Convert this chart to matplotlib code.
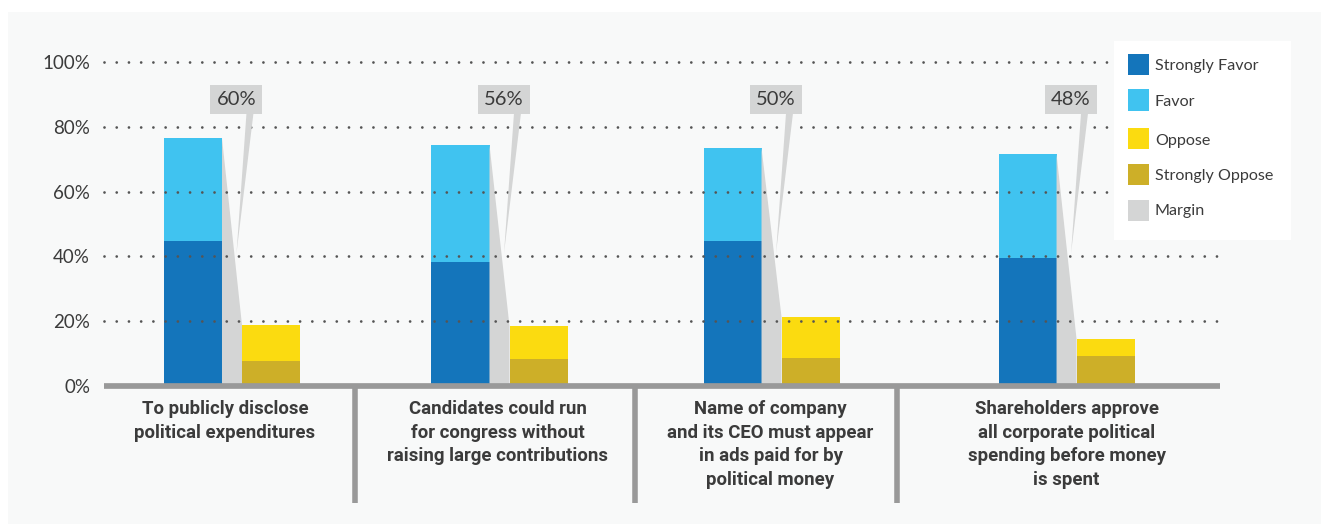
import matplotlib
matplotlib.use("Agg")
import matplotlib.pyplot as plt
from matplotlib.patches import Rectangle, Polygon
from matplotlib.transforms import blended_transform_factory

# ---- data -------------------------------------------------------------
categories = [
    "To publicly disclose\npolitical expenditures",
    "Candidates could run\nfor congress without\nraising large contributions",
    "Name of company\nand its CEO must appear\nin ads paid for by\npolitical money",
    "Shareholders approve\nall corporate political\nspending before money\nis spent",
]
strongly_favor = [44.8, 38.3, 44.8, 39.5]
favor = [31.7, 36.1, 28.7, 32.1]
strongly_oppose = [7.7, 8.3, 8.6, 9.3]
oppose = [11.1, 10.2, 12.7, 5.2]
margin_labels = ["60%", "56%", "50%", "48%"]
y_ticks = [0, 20, 40, 60, 80, 100]
y_tick_labels = ["0%", "20%", "40%", "60%", "80%", "100%"]
legend_labels = ["Strongly Favor", "Favor", "Oppose", "Strongly Oppose", "Margin"]

# ---- style --------------------------------------------------------------
C_SF = "#1475bb"
C_F = "#40c3f0"
C_O = "#fbdb10"
C_SO = "#cdaf28"
C_MARGIN = "#d4d5d5"
C_TEXT = "#3b3b3b"
C_AXIS = "#999999"
C_GRID = "#555555"
PANEL = "#f8f9f9"
FONT = "Lato"
FONT_BOLD = "Roboto"

W, H = 1321, 524
fig = plt.figure(figsize=(W / 100, H / 100), dpi=100)
fig.patch.set_facecolor("white")


def fx(px):
    return px / W


def fy(py):
    return 1 - py / H


# light panel behind everything
fig.add_artist(Rectangle((fx(8), 0), 1 - fx(8), fy(12), transform=fig.transFigure,
                         facecolor=PANEL, edgecolor="none", zorder=-5))

# plot area
ax_left, ax_right, ax_top, ax_bottom = 104, 1220, 62, 386
ax = fig.add_axes([fx(ax_left), fy(ax_bottom), fx(ax_right - ax_left),
                   (ax_bottom - ax_top) / H])
ax.set_facecolor("none")

unit = 270.0  # pixels per group step
group_pos = [0.0, 0.9907, 1.9981, 3.0907]
x_min, x_max = -0.474, 3.659
ax.set_xlim(x_min, x_max)
ax.set_ylim(0, 100)
for s in ax.spines.values():
    s.set_visible(False)

bar_w = 58 / unit
off = 39 / unit

for i, gx in enumerate(group_pos):
    xf = gx - off
    xo = gx + off
    ax.bar(xf, strongly_favor[i], width=bar_w, color=C_SF, zorder=2)
    ax.bar(xf, favor[i], bottom=strongly_favor[i], width=bar_w, color=C_F, zorder=2)
    ax.bar(xo, strongly_oppose[i], width=bar_w, color=C_SO, zorder=2)
    ax.bar(xo, oppose[i], bottom=strongly_oppose[i], width=bar_w, color=C_O, zorder=2)

    fav_total = strongly_favor[i] + favor[i]
    opp_total = strongly_oppose[i] + oppose[i]
    x1 = xf + bar_w / 2
    x2 = xo - bar_w / 2
    ax.add_patch(Polygon([(x1, 0), (x1, fav_total), (x2, opp_total), (x2, 0)],
                         closed=True, facecolor=C_MARGIN, edgecolor="none", zorder=2))

    # callout with the margin value
    bx = gx + 4.5 / unit
    box_w = 52 / unit
    box_bot, box_top = 83.95, 92.9
    ax.add_patch(Rectangle((bx - box_w / 2, box_bot), box_w, box_top - box_bot,
                           facecolor=C_MARGIN, edgecolor="none", zorder=5))
    ax.add_patch(Polygon([(bx + 10 / unit, box_bot + 0.3), (bx + 17 / unit, box_bot + 0.3),
                          (bx, 41.0)], closed=True, facecolor=C_MARGIN,
                         edgecolor="none", zorder=5))
    ax.text(bx, (box_bot + box_top) / 2, margin_labels[i], ha="center", va="center",
            fontsize=14.5, family=FONT, color=C_TEXT, zorder=6)

# dotted gridlines
for yv in y_ticks[1:]:
    ax.plot([x_min, x_max + 3 / unit], [yv, yv], color=C_GRID, linewidth=2.0,
            linestyle=(0, (0.001, 4.4)), dash_capstyle="round", zorder=3, clip_on=False)

# baseline
ax.axhline(0, color=C_AXIS, linewidth=4.1, solid_capstyle="butt", zorder=4, clip_on=False)

# separators between categories
trans = blended_transform_factory(ax.transData, ax.transAxes)
sep_px = [355, 634.5, 897]
sep_bottom = -(503 - ax_bottom) / (ax_bottom - ax_top)
for sp in sep_px:
    sx = (sp - 232) / unit
    ax.plot([sx, sx], [0, sep_bottom], transform=trans, color=C_AXIS, linewidth=4.0,
            solid_capstyle="butt", clip_on=False, zorder=4)

# category labels
label_shift = [-7, -2, -1, 0]
for i, gx in enumerate(group_pos):
    ax.text(gx + label_shift[i] / unit, -(400 - ax_bottom) / (ax_bottom - ax_top),
            categories[i], transform=trans, ha="center", va="top", fontsize=13.4,
            fontweight="bold", family=FONT_BOLD, color=C_TEXT, linespacing=1.4)

# y axis ticks
ax.set_xticks([])
ax.set_yticks(y_ticks)
ax.set_yticklabels(y_tick_labels, fontsize=13.5, family=FONT, color=C_TEXT)
ax.tick_params(axis="y", length=0, pad=10)

# legend
fig.add_artist(Rectangle((fx(1114), fy(240)), fx(1291 - 1114), (240 - 41) / H,
                         transform=fig.transFigure, facecolor="white",
                         edgecolor="none", zorder=10))
leg_colors = [C_SF, C_F, C_O, C_SO, C_MARGIN]
leg_y = [64.5, 100, 139, 174.5, 210]
for lbl, col, ly in zip(legend_labels, leg_colors, leg_y):
    fig.add_artist(Rectangle((fx(1128), fy(ly + 10.5)), fx(21), 21 / H,
                             transform=fig.transFigure, facecolor=col,
                             edgecolor="none", zorder=11))
    fig.text(fx(1155), fy(ly + 1.5), lbl, ha="left", va="center", fontsize=11.6,
             family=FONT, color=C_TEXT, zorder=12)

fig.savefig("out.png", dpi=100, facecolor=fig.get_facecolor())
